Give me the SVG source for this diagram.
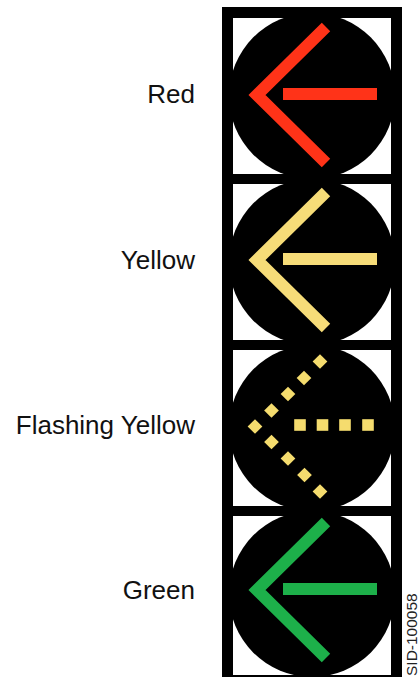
<svg xmlns="http://www.w3.org/2000/svg" xmlns:xlink="http://www.w3.org/1999/xlink" width="419" height="677" viewBox="0 0 419 677">
  <style>
    .label { font-family: "Liberation Sans", Arial, sans-serif; font-size: 26px; fill: #111; text-anchor: end; }
    .sid { font-family: "Liberation Sans", Arial, sans-serif; font-size: 15.5px; fill: #222; text-anchor: start; }
    .cell { fill: #ffffff; }
    .lens { fill: #000000; }
    .arrow { fill: none; stroke-width: 12; stroke-linejoin: miter; stroke-linecap: butt; }
    .red { stroke: #FF3318; }
    .yellow { stroke: #F6DC78; }
    .green { stroke: #1DB04A; }
    .dot { fill: #F5DC6E; }
  </style>
  <defs>
    <g id="arrowShape">
      <polyline points="326,-68 257,0 326,68"/>
      <line x1="283" y1="-1" x2="377" y2="-1"/>
    </g>
    <rect id="dia" x="-5.2" y="-5.2" width="10.4" height="10.4" transform="rotate(45)"/>
    <rect id="sq" x="-5.8" y="-5.8" width="11.6" height="11.6"/>
  </defs>
  <rect x="0" y="0" width="419" height="677" fill="#ffffff"/>
  <g id="housing">
    <rect x="222" y="7" width="180" height="675" fill="#000"/>
  </g>
  <g id="signal-red">
    <rect class="cell" x="233" y="18" width="158" height="156"/>
    <circle class="lens" cx="312" cy="96" r="83"/>
    <use xlink:href="#arrowShape" class="arrow red" transform="translate(0,95)"/>
  </g>
  <g id="signal-yellow">
    <rect class="cell" x="233" y="184" width="158" height="156"/>
    <circle class="lens" cx="312" cy="262" r="83"/>
    <use xlink:href="#arrowShape" class="arrow yellow" transform="translate(0,260)"/>
  </g>
  <g id="signal-flashing-yellow">
    <rect class="cell" x="233" y="350" width="158" height="156"/>
    <circle class="lens" cx="312" cy="428" r="83"/>
    <g class="dot">
      <use xlink:href="#dia" transform="translate(320,361.5)"/>
      <use xlink:href="#dia" transform="translate(304,378)"/>
      <use xlink:href="#dia" transform="translate(288,394)"/>
      <use xlink:href="#dia" transform="translate(271.5,410.5)"/>
      <use xlink:href="#dia" transform="translate(255,426.5)"/>
      <use xlink:href="#dia" transform="translate(271.5,442)"/>
      <use xlink:href="#dia" transform="translate(288,458.5)"/>
      <use xlink:href="#dia" transform="translate(304.5,475)"/>
      <use xlink:href="#dia" transform="translate(320,491.5)"/>
      <use xlink:href="#sq" transform="translate(300,425)"/>
      <use xlink:href="#sq" transform="translate(322.5,425)"/>
      <use xlink:href="#sq" transform="translate(345,425)"/>
      <use xlink:href="#sq" transform="translate(368,425)"/>
    </g>
  </g>
  <g id="signal-green">
    <rect class="cell" x="233" y="516" width="158" height="159"/>
    <circle class="lens" cx="312" cy="594" r="83"/>
    <use xlink:href="#arrowShape" class="arrow green" transform="translate(0,590)"/>
  </g>
  <g id="labels">
    <text class="label" x="195" y="103">Red</text>
    <text class="label" x="195" y="269">Yellow</text>
    <text class="label" x="195" y="434">Flashing Yellow</text>
    <text class="label" x="195" y="599">Green</text>
    <text class="sid" transform="translate(417,676) rotate(-90)">SID-100058</text>
  </g>
</svg>
